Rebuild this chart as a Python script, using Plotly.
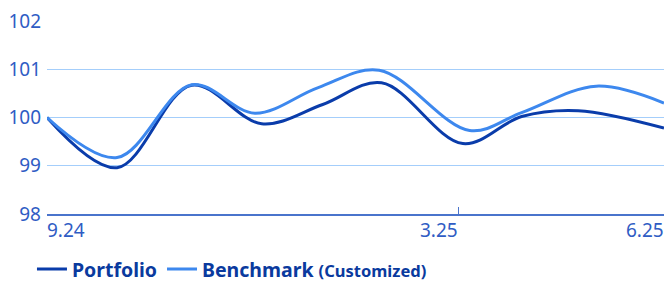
import plotly.graph_objects as go

port_dates = ["2024-09-30", "2024-10-31", "2024-12-03", "2025-01-03", "2025-01-30",
              "2025-02-25", "2025-04-02", "2025-04-28", "2025-05-23", "2025-06-30"]
port_vals = [100.0, 98.96, 100.67, 99.87, 100.27, 100.72, 99.46, 100.02, 100.14, 99.78]

bench_dates = ["2024-09-30", "2024-10-31", "2024-12-03", "2024-12-31", "2025-01-28",
               "2025-02-24", "2025-04-05", "2025-04-28", "2025-05-31", "2025-06-30"]
bench_vals = [100.0, 99.17, 100.68, 100.09, 100.62, 100.98, 99.73, 100.1, 100.65, 100.3]

tick_dates = ["2024-09-30", "2025-03-31", "2025-06-30"]
tick_labels = ["9.24", "3.25", "6.25"]
tick_anchor = ["left", "right", "right"]
y_ticks = [98, 99, 100, 101, 102]

FONT = "Noto Sans"
fig = go.Figure()
fig.add_trace(go.Scatter(x=port_dates, y=port_vals, mode="lines", name="Portfolio",
                         line=dict(color="#0a3caa", width=3, shape="spline", smoothing=1.0)))
fig.add_trace(go.Scatter(x=bench_dates, y=bench_vals, mode="lines",
                         name="Benchmark <span style='font-size:16.5px'>(Customized)</span>",
                         line=dict(color="#3d88ee", width=3, shape="spline", smoothing=1.0)))

for d, t, a in zip(tick_dates, tick_labels, tick_anchor):
    fig.add_annotation(x=d, y=0, xref="x", yref="paper", text=t, showarrow=False,
                       xanchor=a, yanchor="top", yshift=-1, xshift=(-2 if a == "left" else 2),
                       font=dict(family=FONT, size=19, color="#2f5cc4"))

fig.update_layout(
    width=666, height=282,
    margin=dict(l=47, r=2, t=21, b=68),
    plot_bgcolor="white", paper_bgcolor="white",
    showlegend=True,
    legend=dict(orientation="h", x=0.048, xanchor="left", y=0.045, yanchor="middle",
                xref="container", yref="container",
                font=dict(family=FONT, size=19.5, color="#0a3a9e", weight="bold"),
                itemwidth=30, tracegroupgap=0),
    xaxis=dict(type="date", range=["2024-09-30", "2025-06-30"], tickvals=tick_dates,
               showticklabels=False, showgrid=False, zeroline=False,
               showline=True, linecolor="#4a74cc", linewidth=2,
               ticks="inside", ticklen=7, tickcolor="#4a74cc", tickwidth=1),
    yaxis=dict(range=[98, 102], tickvals=y_ticks, showgrid=True, gridcolor="#a4cefb",
               gridwidth=1, zeroline=False, showline=False, ticks="",
               ticklabelstandoff=5,
               tickfont=dict(family=FONT, size=19, color="#2f5cc4")),
)
fig.write_html("out.html", config={"displayModeBar": False},
               post_script="document.body.style.margin='0';document.body.style.overflow='hidden';")
